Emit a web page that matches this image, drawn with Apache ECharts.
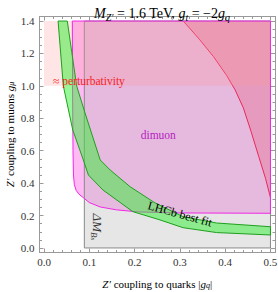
<!DOCTYPE html>
<html><head><meta charset="utf-8">
<script src="https://cdn.jsdelivr.net/npm/echarts@6/dist/echarts.min.js"></script>
<style>html,body{margin:0;padding:0;background:#fff}#c{width:278px;height:292px}</style>
</head><body><div id="c"></div>
<script>
// ---- data ----
const xTicks = [0, 0.1, 0.2, 0.3, 0.4, 0.5];
const xMinorTicks = [0.02,0.04,0.06,0.08,0.12,0.14,0.16,0.18,0.22,0.24,0.26,0.28,0.32,0.34,0.36,0.38,0.42,0.44,0.46,0.48];
const yTicks = [0, 0.2, 0.4, 0.6, 0.8, 1.0, 1.2, 1.4];
const yMinorTicks = [0.05,0.1,0.15,0.25,0.3,0.35,0.45,0.5,0.55,0.65,0.7,0.75,0.85,0.9,0.95,1.05,1.1,1.15,1.25,1.3,1.35];

// perturbativity region (g_q, g_mu)
const perturbRegion = [[0,1.0],[0.5,1.0],[0.5,1.4],[0,1.4]];
// Delta M_Bs excluded region
const deltaMRegion = [[0.089,0],[0.5,0],[0.5,1.4],[0.089,1.4]];
// dimuon excluded region boundary
const dimuonRegion = [[0.0625,1.4],[0.063,1.0],[0.064,0.6],[0.065,0.45],[0.067,0.39],[0.071,0.355],[0.077,0.332],[0.087,0.31],[0.1,0.28],[0.124,0.253],[0.16,0.235],[0.21,0.222],[0.3,0.216],[0.5,0.214],[0.5,1.4]];
// red curve (upper right region)
const redCurve = [[0.3075,1.4],[0.344,1.284],[0.374,1.181],[0.403,1.065],[0.422,0.975],[0.44,0.865],[0.457,0.72],[0.474,0.565],[0.489,0.43],[0.5,0.31]];
const redCorner = [[0.5,1.4]];
// LHCb best fit band
const lhcbLower = [[0.031,1.4],[0.0426,1.0],[0.0634,0.728],[0.0868,0.543],[0.098,0.45],[0.13,0.358],[0.196,0.224],[0.256,0.173],[0.307,0.125],[0.381,0.095],[0.5,0.08]];
const lhcbUpper = [[0.0514,1.4],[0.072,1.0],[0.0905,0.833],[0.124,0.543],[0.146,0.481],[0.19,0.378],[0.245,0.278],[0.307,0.193],[0.381,0.154],[0.5,0.131]];

// ---- chart ----
const SERIF = '"Liberation Serif","DejaVu Serif",serif';
const chart = echarts.init(document.getElementById('c'), null, {renderer:'svg'});

function polySeries(name, pts, style, z, closed) {
  return {
    type:'custom', name, coordinateSystem:'cartesian2d', xAxisIndex:0, yAxisIndex:0,
    z, silent:true, clip:true, data: pts, encode:{x:0, y:1},
    renderItem: (params, api) => {
      if (params.dataIndex !== 0) return;
      const p = pts.map(d => api.coord(d));
      return {type: closed ? 'polygon' : 'polyline', shape:{points:p}, style: style};
    }
  };
}

const frameColor = '#999';
function xAx(pos, ticks, len, labels, extra) {
  return Object.assign({
    type:'value', position: pos, min:-0.01, max:0.51, splitLine:{show:false},
    axisLine:{show:true, onZero:false, lineStyle:{color:frameColor, width:1}},
    axisTick:{show:true, inside:true, length:len, customValues:ticks, lineStyle:{color:frameColor}},
    axisLabel: labels ? {show:true, customValues:ticks, formatter:v=>v.toFixed(1), color:'#333',
      fontFamily:SERIF, fontSize:11, margin:4} : {show:false}
  }, extra||{});
}
function yAx(pos, ticks, len, labels, extra) {
  return Object.assign({
    type:'value', position: pos, min:-0.028, max:1.428, splitLine:{show:false},
    axisLine:{show:true, onZero:false, lineStyle:{color:frameColor, width:1}},
    axisTick:{show:true, inside:true, length:len, customValues:ticks, lineStyle:{color:frameColor}},
    axisLabel: labels ? {show:true, customValues:ticks, formatter:v=>v.toFixed(1), color:'#333',
      fontFamily:SERIF, fontSize:11, margin:5} : {show:false}
  }, extra||{});
}

const greenBand = lhcbLower.concat(lhcbUpper.slice().reverse());
const redRegion = redCurve.concat(redCorner);

const nameRich = {
  r:{fontFamily:SERIF, fontSize:11, color:'#000', lineHeight:12},
  i:{fontFamily:SERIF, fontSize:11, fontStyle:'italic', color:'#000', lineHeight:12},
  s:{fontFamily:SERIF, fontSize:8, fontStyle:'italic', color:'#000', lineHeight:7, verticalAlign:'bottom'}
};

chart.setOption({
  animation:false,
  title:{
    text:'{i|M}{s|Z′}{r| = 1.6 TeV, }{i|g}{s|t}{r| = −2}{i|g}{s|q}',
    left: 157, top: 0, textAlign:'center',
    textStyle:{fontFamily:SERIF, fontSize:14, fontWeight:'normal', color:'#000',
      rich:{
        r:{fontFamily:SERIF, fontSize:14, color:'#000', lineHeight:17},
        i:{fontFamily:SERIF, fontSize:14, fontStyle:'italic', color:'#000', lineHeight:17},
        s:{fontFamily:SERIF, fontSize:10, fontStyle:'italic', color:'#000', lineHeight:9, verticalAlign:'bottom'}
      }}
  },
  grid:{left:39.5, right:3, top:16.5, bottom:39.5, containLabel:false, outerBoundsMode:'none'},
  xAxis:[
    xAx('bottom', xTicks, 4, true, {
      name:'{i|Z′}{r| coupling to quarks |}{i|g}{s|q}{r||}', nameLocation:'middle', nameGap:25, nameMoveOverlap:false,
      nameTextStyle:{fontFamily:SERIF, fontSize:11, color:'#000', rich:nameRich}
    }),
    xAx('bottom', xMinorTicks, 2.5, false),
    xAx('top', xTicks, 4, false),
    xAx('top', xMinorTicks, 2.5, false)
  ],
  yAxis:[
    yAx('left', yTicks, 4, true, {
      name:'{i|Z′}{r| coupling to muons }{i|g}{s|μ}', nameLocation:'middle', nameGap:24, nameRotate:90, nameMoveOverlap:false,
      nameTextStyle:{fontFamily:SERIF, fontSize:11, color:'#000', rich:nameRich}
    }),
    yAx('left', yMinorTicks, 2.5, false),
    yAx('right', yTicks, 4, false),
    yAx('right', yMinorTicks, 2.5, false)
  ],
  series:[
    polySeries('dimuonFill', dimuonRegion, {fill:'rgb(255,185,245)', stroke:null}, 1, true),
    polySeries('deltaM', deltaMRegion, {fill:'rgba(185,185,185,0.36)', stroke:'#8a8a8a', lineWidth:1}, 2, true),
    polySeries('redFill', redRegion, {fill:'rgba(230,99,130,0.35)', stroke:null}, 3, true),
    polySeries('redLine', redCurve, {fill:null, stroke:'rgb(235,40,90)', lineWidth:1}, 4, false),
    polySeries('perturb', perturbRegion, {fill:'rgba(255,150,150,0.25)', stroke:null}, 5, true),
    polySeries('dimuonLine', dimuonRegion.concat([dimuonRegion[0]]), {fill:null, stroke:'rgb(240,40,230)', lineWidth:1}, 6, false),
    polySeries('lhcb', greenBand, {fill:'rgba(50,240,50,0.5)', stroke:'rgb(30,160,30)', lineWidth:1}, 7, true)
  ]
});

// annotations anchored in data coordinates
function px(p){ return chart.convertToPixel({xAxisIndex:0, yAxisIndex:0}, p); }
const pPert = px([0.02, 1.033]);
const pDim = px([0.2135, 0.6975]);
const pLhcb = px([0.30, 0.21]);
const pDm = px([0.117, 0.13]);
chart.setOption({
  graphic:[
    {type:'text', x:pPert[0], y:pPert[1], z:100, style:{text:'≈ perturbativity', fill:'rgb(245,30,40)',
      font:'11.5px '+SERIF, textAlign:'left', textVerticalAlign:'middle'}},
    {type:'text', x:pDim[0], y:pDim[1], z:100, style:{text:'dimuon', fill:'rgb(180,30,190)',
      font:'11.5px '+SERIF, textAlign:'left', textVerticalAlign:'middle'}},
    {type:'text', x:pLhcb[0], y:pLhcb[1], rotation:-0.27, z:100, style:{text:'LHCb best fit', fill:'#000',
      font:'12px '+SERIF, textAlign:'center', textVerticalAlign:'middle'}},
    {type:'text', x:pDm[0], y:pDm[1], rotation:-Math.PI/2, z:100, style:{
      text:'{n|ΔM}{s|B}{ss|s}', textAlign:'center', textVerticalAlign:'middle', fill:'#333',
      rich:{n:{fontFamily:SERIF, fontSize:13, fontStyle:'italic', lineHeight:16, fill:'#333'},
            s:{fontFamily:SERIF, fontSize:9, fontStyle:'italic', lineHeight:9, verticalAlign:'bottom', fill:'#333'},
            ss:{fontFamily:SERIF, fontSize:7, fontStyle:'italic', lineHeight:5, verticalAlign:'bottom', fill:'#333'}}}}
  ]
});
</script></body></html>
